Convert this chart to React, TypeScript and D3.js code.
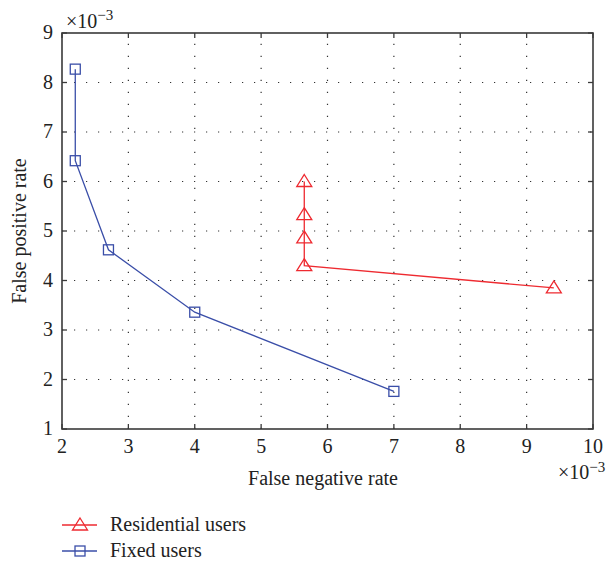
import React from "react";
import * as d3 from "d3";

// False negative / false positive rates (×10^-3)
const fixedFN = [2.2, 2.2, 2.7, 4.0, 7.0];
const fixedFP = [8.27, 6.42, 4.62, 3.36, 1.76];
const residentialFN = [5.65, 5.65, 5.65, 5.65, 9.41];
const residentialFP = [6.0, 5.33, 4.86, 4.3, 3.85];
const xTicks = [2, 3, 4, 5, 6, 7, 8, 9, 10];
const yTicks = [1, 2, 3, 4, 5, 6, 7, 8, 9];
const seriesNames = ["Residential users", "Fixed users"];

const W = 613;
const H = 565;
const M = { left: 62, right: 593, top: 33, bottom: 429 };
const RED = "#ee2a30";
const BLUE = "#3a4ea8";
const AXIS = "#3a3a3a";
const TXT = "#222";
const FONT = "'Liberation Serif', 'Times New Roman', serif";
const FS = 20;

export default function App() {
  const x = d3.scaleLinear().domain([2, 10]).range([M.left, M.right]);
  const y = d3.scaleLinear().domain([1, 9]).range([M.bottom, M.top]);
  const line = d3
    .line<[number, number]>()
    .x((d) => x(d[0]))
    .y((d) => y(d[1]));

  const fixed: [number, number][] = fixedFN.map((v, i) => [v, fixedFP[i]]);
  const resid: [number, number][] = residentialFN.map((v, i) => [v, residentialFP[i]]);

  const tri = (cx: number, cy: number, k: string) => (
    <path
      key={k}
      d={`M${cx},${cy - 7} L${cx + 7.5},${cy + 5} L${cx - 7.5},${cy + 5} Z`}
      fill="none"
      stroke={RED}
      strokeWidth={1.3}
    />
  );
  const sq = (cx: number, cy: number, k: string) => (
    <rect
      key={k}
      x={cx - 5}
      y={cy - 5}
      width={10}
      height={10}
      fill="none"
      stroke={BLUE}
      strokeWidth={1.3}
    />
  );

  return (
    <svg
      width={W}
      height={H}
      style={{ position: "absolute", left: 0, top: 0, background: "#fff" }}
      fontFamily={FONT}
    >
      {/* grid */}
      {xTicks.slice(1, -1).map((t) => (
        <line
          key={"gx" + t}
          x1={x(t)}
          x2={x(t)}
          y1={M.bottom}
          y2={M.top}
          stroke="#333"
          strokeWidth={1.2}
          strokeDasharray="1.2,10.8"
        />
      ))}
      {yTicks.slice(1, -1).map((t) => (
        <line
          key={"gy" + t}
          x1={M.left}
          x2={M.right}
          y1={y(t)}
          y2={y(t)}
          stroke="#333"
          strokeWidth={1.2}
          strokeDasharray="1.2,10.8"
        />
      ))}

      {/* ticks on all four sides */}
      {xTicks.map((t) => (
        <g key={"tx" + t}>
          <line x1={x(t)} x2={x(t)} y1={M.bottom} y2={M.bottom - 5} stroke={AXIS} strokeWidth={1.3} />
          <line x1={x(t)} x2={x(t)} y1={M.top} y2={M.top + 5} stroke={AXIS} strokeWidth={1.3} />
          <text x={x(t)} y={M.bottom + 24} textAnchor="middle" fontSize={FS} fill={TXT}>
            {t}
          </text>
        </g>
      ))}
      {yTicks.map((t) => (
        <g key={"ty" + t}>
          <line x1={M.left} x2={M.left + 5} y1={y(t)} y2={y(t)} stroke={AXIS} strokeWidth={1.3} />
          <line x1={M.right} x2={M.right - 5} y1={y(t)} y2={y(t)} stroke={AXIS} strokeWidth={1.3} />
          <text x={M.left - 9} y={y(t) + 6} textAnchor="end" fontSize={FS} fill={TXT}>
            {t}
          </text>
        </g>
      ))}

      {/* frame */}
      <rect
        x={M.left}
        y={M.top}
        width={M.right - M.left}
        height={M.bottom - M.top}
        fill="none"
        stroke={AXIS}
        strokeWidth={1.6}
      />

      {/* series */}
      <path d={line(fixed) || ""} fill="none" stroke={BLUE} strokeWidth={1.3} />
      {fixed.map((d, i) => sq(x(d[0]), y(d[1]), "s" + i))}
      <path d={line(resid) || ""} fill="none" stroke={RED} strokeWidth={1.3} />
      {resid.map((d, i) => tri(x(d[0]), y(d[1]), "t" + i))}

      {/* exponent labels */}
      <text x={66} y={28} fontSize={FS} fill={TXT}>
        ×10<tspan dy={-8} fontSize={15}>−3</tspan>
      </text>
      <text x={558} y={479} fontSize={FS} fill={TXT}>
        ×10<tspan dy={-7} fontSize={15}>−3</tspan>
      </text>

      {/* axis titles */}
      <text x={323} y={485} textAnchor="middle" fontSize={FS} fill={TXT}>
        False negative rate
      </text>
      <text
        transform={`translate(26,${(M.top + M.bottom) / 2}) rotate(-90)`}
        textAnchor="middle"
        fontSize={FS}
        fill={TXT}
      >
        False positive rate
      </text>

      {/* legend */}
      <g>
        <line x1={62} x2={97} y1={525} y2={525} stroke={RED} strokeWidth={1.3} />
        {tri(80, 525, "lt")}
        <text x={110} y={531} fontSize={FS} fill={TXT}>
          {seriesNames[0]}
        </text>
        <line x1={62} x2={97} y1={551} y2={551} stroke={BLUE} strokeWidth={1.3} />
        {sq(80, 551, "ls")}
        <text x={110} y={557} fontSize={FS} fill={TXT}>
          {seriesNames[1]}
        </text>
      </g>
    </svg>
  );
}
